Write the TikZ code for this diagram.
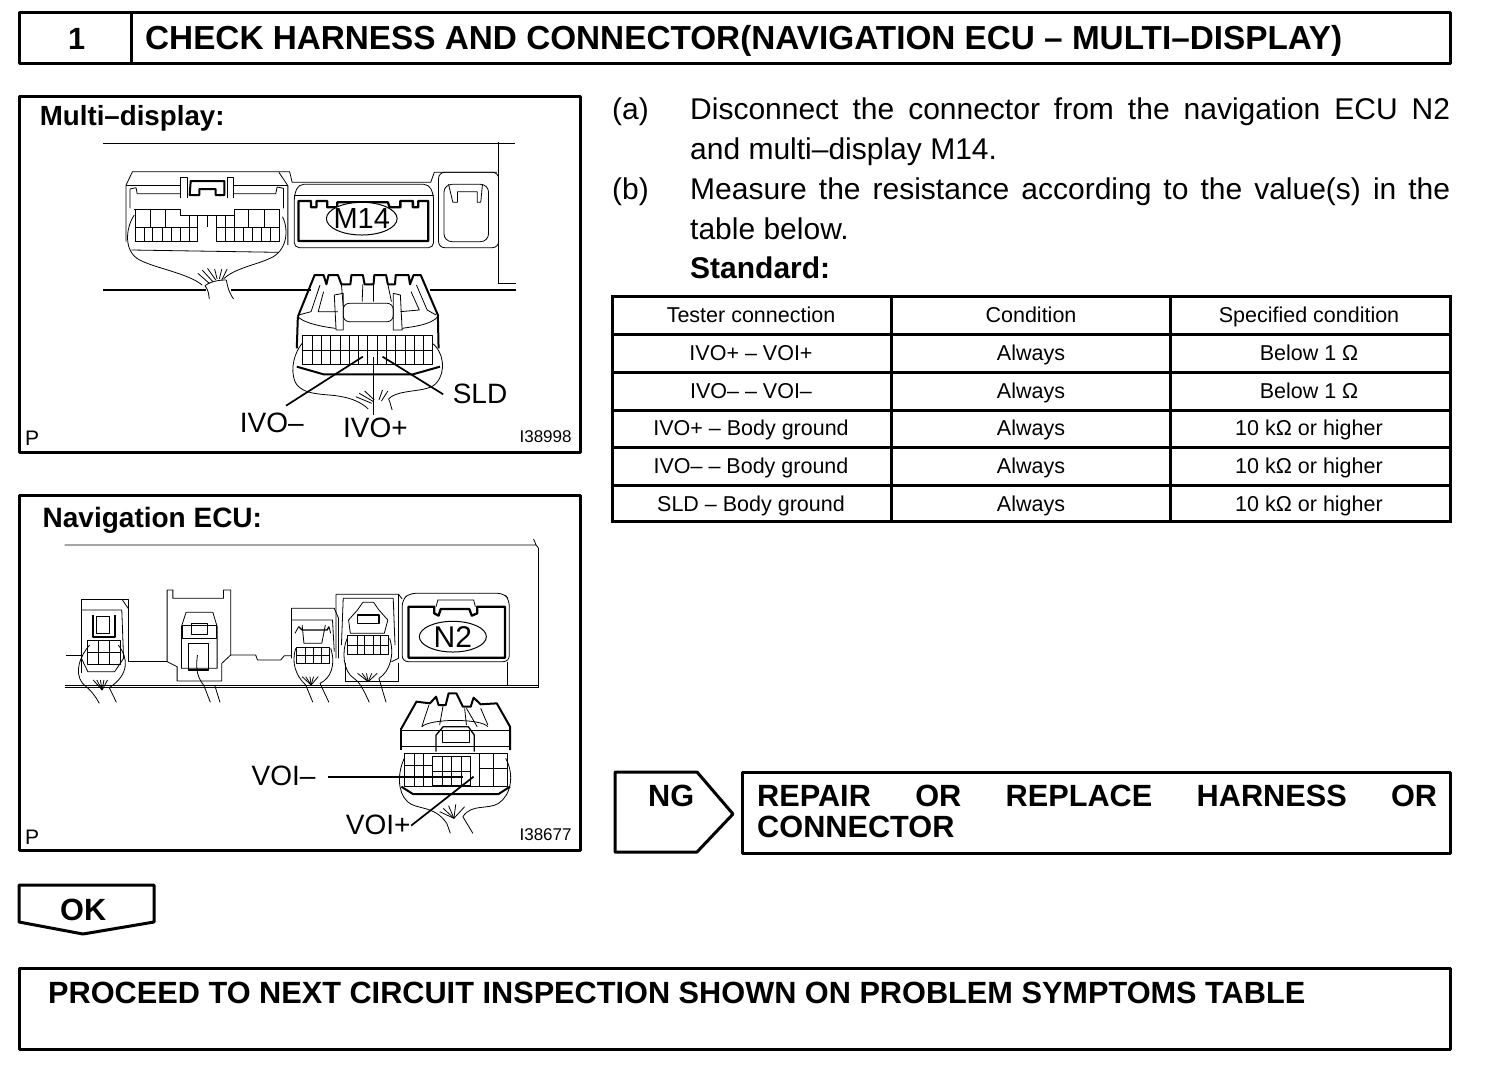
\documentclass[tikz,border=0pt]{standalone}
\usepackage{fontspec}
\usetikzlibrary{shapes.geometric}
\setmainfont{Liberation Sans}
\newcommand{\fsz}[1]{\fontsize{#1}{#1}\selectfont}
\tikzset{
 x=1pt,y=-1pt,
 box/.style={line width=3pt,line join=round},
 rule/.style={line width=3pt},
 big/.style={font=\fsz{30.7}\bfseries,inner sep=0pt,anchor=base west},
 sub/.style={font=\fsz{27.7}\bfseries,inner sep=0pt,anchor=base west},
 body/.style={font=\fontsize{30}{40}\selectfont,inner sep=0pt,anchor=north west},
 cell/.style={font=\fsz{21.5},inner sep=0pt,anchor=base},
 lab/.style={font=\fsz{28},inner sep=0pt,anchor=base},
 tiny/.style={font=\fsz{17},inner sep=0pt,anchor=base east},
 pp/.style={font=\fsz{21},inner sep=0pt,anchor=base west},
 art/.style={line width=.8pt,line join=round},
 hv/.style={line width=2pt,line join=round},
 lead/.style={line width=1.7pt},
 pict/.style={x=0.35714pt,y=-0.33333pt},
}
\begin{document}
\begin{tikzpicture}
\useasboundingbox (0,0) rectangle (1504,1068);
% header
\draw[box] (19,12) rectangle (1450,63);
\draw[box] (131,12) -- (131,63);
\node[big] (num) at (68,49) {1};
\node[big,font=\fsz{33.3}\bfseries] (title) at (145,49) {CHECK HARNESS AND CONNECTOR(NAVIGATION ECU – MULTI–DISPLAY)};
% panels
\draw[box] (19,96) rectangle (580,452);
\draw[box] (19,495) rectangle (580,850);

% ---- panel 1 ----
\begin{scope}[shift={(20,95)},pict]
\node[sub] (t1) at (55,92) {Multi–display:};
\draw[art] (232,145) -- (1386,145);
\draw[art] (1340,142) -- (1340,566);
\draw[hv,line width=1.2pt] (1340,566) -- (1388,566);
\draw[hv,line width=1.2pt] (232,585) -- (520,585) (590,585) -- (815,585) (1148,585) -- (1388,585);
% left connector
\draw[art] (297,440) -- (297,270) -- (315,230) -- (755,230) -- (762,262) -- (1150,262) -- (1160,232) -- (1335,232);
\draw[art] (750,450) -- (750,272) -- (725,232);
\draw[art] (297,272) -- (450,272) (598,272) -- (750,272);
\draw[art] (450,310) -- (450,248) -- (468,248) -- (468,310);
\draw[art] (580,310) -- (580,248) -- (598,248) -- (598,310);
\draw[art] (328,296) -- (450,296) (598,296) -- (716,296) -- (720,276) -- (738,280) -- (738,340);
\draw[art] (328,296) -- (325,278) -- (308,282) -- (308,340);
\draw[hv] (478,258) -- (572,258) -- (572,300) -- (548,300) -- (548,282) -- (502,282) -- (502,300) -- (475,300) -- cycle;
\draw[art] (320,342) -- (448,342) -- (448,360) -- (600,360) -- (600,342) -- (726,342);
\draw[art] (322,397) -- (498,397) (550,397) -- (726,397);
\draw[hv,line width=1.2pt] (322,440) -- (498,440) -- (498,397) (550,397) -- (550,440) -- (726,440);
\foreach \q in {322,348,372,398,424,448,474} \draw[art] (\q,397) -- (\q,440);
\foreach \q in {574,600,625,650,676,700,726} \draw[art] (\q,397) -- (\q,440);
\foreach \q in {474,498,524,550,574,600} \draw[art] (\q,360) -- (\q,397);
\draw[art] (364,342) -- (364,397) (408,342) -- (408,397) (640,342) -- (640,397) (684,342) -- (684,397);
\draw[art] (322,342) -- (322,397) (726,342) -- (726,397);
\draw[art] (320,360) .. controls (295,400) and (290,470) .. (335,495) .. controls (380,520) and (470,535) .. (510,570);
\draw[art] (735,365) .. controls (755,410) and (745,470) .. (700,490) .. controls (660,510) and (600,520) .. (570,552);
\draw[art] (312,465) -- (725,472);
\draw[art] (518,572) .. controls (530,590) and (528,600) .. (530,612);
\draw[art] (578,555) .. controls (582,585) and (590,600) .. (598,612);
\draw[art] (518,572) .. controls (535,558) and (560,555) .. (578,555);
\foreach \a/\b/\c/\d in {498/535/530/565, 510/525/540/560, 525/520/548/555, 545/522/552/552, 565/522/558/552, 580/522/565/555}
  \draw[art] (\a,\b) -- (\c,\d);
% M14
\draw[art,rounded corners=5pt] (768,300) -- (768,458) -- (1158,458) -- (1158,300) -- (1145,268) -- (780,268) -- cycle;
\draw[art] (768,300) -- (1158,300);
\draw[hv,line width=2.3pt] (780,318) -- (815,318) -- (815,337) -- (830,337) -- (830,318) -- (860,318) -- (860,337) -- (888,337) -- (888,322) -- (1030,322) -- (1035,337) -- (1065,337) -- (1065,318) -- (1100,318) -- (1100,337) -- (1115,337) -- (1115,318) -- (1143,318) -- (1143,438) -- (780,438) -- cycle;
\node[draw,ellipse,fill=white,line width=1pt,minimum width=70.7pt,minimum height=32.7pt,inner sep=0pt] (m14) at (957,371) {};
\node[lab,anchor=center,font=\fsz{29}] (m14t) at (957,372) {M14};
% right small connector
\draw[art,rounded corners=6pt] (1172,458) rectangle (1340,232);
\draw[art,rounded corners=8pt] (1187,268) rectangle (1312,440);
\draw[art] (1200,268) -- (1212,322) -- (1225,322) -- (1225,290) -- (1280,290) -- (1280,322) -- (1290,322) -- (1295,268);
% lower connector
\draw[hv] (778,665) -- (825,540) -- (850,540) -- (858,568) -- (864,540) -- (890,540) -- (900,568) -- (925,568) -- (928,540) -- (960,540) -- (965,568) -- (990,568) -- (992,540) -- (1025,540) -- (1030,568) -- (1050,568) -- (1052,540) -- (1088,540) -- (1092,568) -- (1102,540) -- (1122,540) -- (1170,660) -- (1172,760);
\draw[hv] (778,665) -- (775,760);
\draw[hv] (775,815) -- (850,838) -- (1100,838) -- (1176,815);
\draw[art] (900,568) -- (905,635) (960,568) -- (958,620) (990,568) -- (990,620) (1030,568) -- (1040,620);
\draw[art] (840,570) -- (815,650) -- (780,660) (850,590) -- (835,650) -- (890,650);
\draw[art] (1110,570) -- (1140,645) -- (1165,660) (1095,590) -- (1118,645) -- (1065,650);
\draw[art] (880,600) -- (905,595) -- (905,705) -- (885,705) -- (880,600);
\draw[art] (1045,595) -- (1065,600) -- (1070,705) -- (1045,705) -- cycle;
\draw[art,rounded corners=6pt] (905,625) -- (1045,625) -- (1045,680) -- (905,680) -- cycle;
\draw[art] (778,665) .. controls (800,690) and (880,700) .. (885,700) (1070,700) .. controls (1100,695) and (1150,690) .. (1170,665);
\draw[art] (792,722) rectangle (1155,808);
\draw[art] (792,765) -- (1155,765);
\foreach \i in {0,...,13} \draw[art] ({792+26*\i},722) -- ({792+26*\i},808);
\draw[art] (790,745) .. controls (770,770) and (755,820) .. (770,860) .. controls (790,905) and (860,895) .. (900,905) .. controls (930,910) and (960,925) .. (975,942);
\draw[art] (1155,745) .. controls (1185,770) and (1195,830) .. (1165,865) .. controls (1140,895) and (1060,880) .. (1032,912) .. controls (1038,925) and (1038,935) .. (1042,945);
\foreach \a/\b/\c/\d in {940/905/985/925, 950/895/990/920, 965/888/992/915, 1015/885/1005/915, 1030/888/1012/918}
  \draw[art] (\a,\b) -- (\c,\d);
\coordinate (p1a) at (745,932); \coordinate (p1b) at (960,785);
\coordinate (p2a) at (990,960); \coordinate (p2b) at (990,785);
\coordinate (p3a) at (1185,898); \coordinate (p3b) at (1015,785);
\draw[lead] (p1a) -- (p1b);
\draw[lead] (p2a) -- (p2b);
\draw[lead] (p3a) -- (p3b);
\node[lab] (slds) at (1288,925) {SLD};
\node[lab] (ivom) at (705,1012) {IVO–};
\node[lab] (ivop) at (995,1026) {IVO+};
\node[pp] (p1) at (14,1052) {P};
\node[tiny] (id1) at (1545,1042) {I38998};
\end{scope}

% ---- panel 2 ----
\begin{scope}[shift={(20,495)},pict]
\node[sub,font=\fsz{28}\bfseries] (t2) at (63,97) {Navigation ECU:};
\draw[art] (125,150) -- (1445,150) -- (1438,132) (1445,150) -- (1452,160) -- (1452,577);
\draw[art] (125,570) -- (1452,570);
\draw[art,line width=1.2pt] (125,577) -- (1452,577);
\draw[art] (130,482) -- (172,482);
% conn 1
\draw[art] (172,535) -- (172,312) -- (303,312) -- (303,500) -- (412,500);
\draw[art] (285,312) -- (303,340) (172,345) -- (285,345) -- (290,490) -- (265,530) -- (190,530) -- (172,490);
\draw[hv] (205,360) -- (205,425) -- (265,425) -- (265,360);
\draw[art] (215,365) rectangle (250,415);
\draw[art] (190,437) rectangle (280,507);
\draw[art] (190,472) -- (280,472) (220,437) -- (220,507) (250,437) -- (250,507);
\draw[art] (195,450) .. controls (170,480) and (150,530) .. (175,565) .. controls (185,575) and (205,590) .. (222,625);
\draw[art] (275,450) .. controls (305,490) and (305,540) .. (250,578) -- (270,622);
\foreach \a in {205,215,225,235,245} \draw[art] (\a,555) -- (230,585);
% conn 2
\draw[art] (412,500) -- (412,285) -- (428,285) -- (428,310) -- (570,310) -- (570,285) -- (590,285) -- (590,480) -- (565,505) -- (565,558) -- (440,558) -- (440,515) -- (412,500);
\draw[art] (452,520) -- (452,395) -- (465,352) -- (540,352) -- (552,395) -- (552,520) -- cycle;
\draw[hv,line width=1.3pt] (455,392) rectangle (550,430);
\draw[hv,line width=1.3pt] (480,385) rectangle (525,418);
\draw[hv,line width=1.3pt] (472,445) rectangle (528,525);
\draw[art] (497,480) .. controls (490,530) and (500,550) .. (515,572) -- (533,622);
\draw[art] (545,570) -- (560,622);
\draw[art] (590,480) -- (660,480) -- (665,495) -- (730,495) -- (740,482) -- (760,482);
% conn 3
\draw[art] (760,490) -- (760,340) -- (880,340) -- (892,370) -- (892,490);
\draw[art] (760,375) -- (875,375) -- (880,470);
\draw[art] (790,390) -- (795,445) -- (845,445) -- (855,390);
\draw[hv,line width=1.3pt] (780,395) -- (790,405) -- (860,405) -- (865,395);
\draw[art] (770,415) -- (780,395) (870,415) -- (865,395);
\draw[art] (775,457) rectangle (865,505);
\draw[art] (775,480) -- (865,480) (800,455) -- (800,505) (822,455) -- (822,505) (845,455) -- (845,505);
\draw[art] (772,460) .. controls (760,500) and (770,540) .. (800,570) -- (820,622);
\draw[art] (870,460) .. controls (885,510) and (870,550) .. (840,565) -- (865,622);
\foreach \a in {790,800,812,822,835} \draw[art] (\a,545) -- (815,570);
% conn 4
\draw[art] (885,490) -- (885,298) -- (1060,298) -- (1070,312);
\draw[art] (1060,298) -- (1060,490) -- (1040,500);
\draw[art] (905,310) -- (1045,310) -- (1050,450) (905,310) -- (900,450);
\draw[hv,line width=1.3pt] (945,360) rectangle (1005,385);
\draw[art] (945,345) -- (960,322) -- (990,322) -- (1005,345) (945,345) -- (920,375) -- (925,415) -- (1020,415) -- (1030,375) -- (1005,345);
\draw[art] (918,420) rectangle (1032,478);
\draw[art] (918,450) -- (1032,450) (945,420) -- (945,478) (965,420) -- (965,478) (990,420) -- (990,478) (1010,420) -- (1010,478);
\draw[art] (916,430) .. controls (900,470) and (905,530) .. (935,550) .. controls (950,560) and (960,580) .. (978,622);
\draw[art] (1035,430) .. controls (1050,480) and (1035,530) .. (1005,550) -- (1025,622);
\foreach \a in {945,958,970,985,1000} \draw[art] (\a,535) -- (975,560);
\draw[art] (912,505) -- (912,558) -- (1060,558) -- (1060,505);
% N2
\draw[art,rounded corners=6pt] (1070,500) -- (1070,315) -- (1090,295) -- (1355,295) -- (1370,315) -- (1370,500) -- cycle;
\draw[art] (1365,500) -- (1365,570);
\draw[hv,line width=2.3pt] (1088,335) -- (1160,335) -- (1160,355) -- (1172,362) -- (1178,342) -- (1258,342) -- (1265,362) -- (1280,355) -- (1280,335) -- (1358,335) -- (1358,488) -- (1088,488) -- cycle;
\draw[art] (1165,335) -- (1170,315) -- (1270,315) -- (1275,335);
\node[draw,ellipse,fill=white,line width=1pt,minimum width=67pt,minimum height=30.7pt,inner sep=0pt] (n2) at (1212,425) {};
\node[lab,anchor=center,font=\fsz{30}] (n2t) at (1212,426) {N2};
% lower connector
\draw[hv] (1068,700) -- (1110,620) -- (1148,625) -- (1165,605) -- (1172,630) -- (1192,630) -- (1200,595) -- (1222,595) -- (1240,635) -- (1262,635) -- (1270,608) -- (1290,628) -- (1335,625) -- (1372,695) -- (1372,765);
\draw[hv] (1068,700) -- (1068,765);
\draw[hv] (1068,875) -- (1100,897) -- (1340,897) -- (1372,875);
\draw[art] (1068,705) -- (1372,705) (1068,755) -- (1372,755);
\draw[art] (1125,695) -- (1145,630) (1250,640) -- (1280,695) (1290,640) -- (1310,690) (1185,630) -- (1175,690) (1245,640) -- (1250,690);
\draw[art] (1125,695) .. controls (1150,670) and (1290,670) .. (1310,695);
\draw[hv,line width=1.3pt] (1165,770) -- (1165,720) -- (1185,695) -- (1255,695) -- (1272,720) -- (1272,770);
\draw[art] (1182,705) rectangle (1258,742);
\draw[art] (1075,775) rectangle (1365,873);
\draw[art] (1075,812) -- (1155,812) (1285,820) -- (1365,820);
\draw[hv,line width=1.3pt] (1155,785) rectangle (1262,873);
\draw[art] (1155,830) -- (1262,830);
\foreach \q in {1182,1208,1235} \draw[art] (\q,785) -- (\q,873);
\foreach \q in {1105,1130,1285,1325} \draw[art] (\q,775) -- (\q,873);
\draw[art] (1076,790) .. controls (1058,830) and (1055,890) .. (1085,920) .. controls (1110,945) and (1160,930) .. (1195,985) -- (1205,1015);
\draw[art] (1360,790) .. controls (1385,840) and (1375,900) .. (1340,925) .. controls (1310,945) and (1265,925) .. (1240,965) -- (1268,1015);
\foreach \a/\b in {1175/950, 1185/940, 1200/932, 1220/928, 1245/935} \draw[art] (\a,\b) -- (1215,970);
\coordinate (v1a) at (862,845); \coordinate (v1b) at (1240,845);
\coordinate (v2a) at (1095,992); \coordinate (v2b) at (1270,845);
\draw[lead] (v1a) -- (v1b);
\draw[lead] (v2a) -- (v2b);
\node[lab] (voim) at (738,872) {VOI–};
\node[lab] (voip) at (1003,1019) {VOI+};
\node[pp] (p2) at (14,1048) {P};
\node[tiny] (id2) at (1545,1036) {I38677};
\end{scope}

% right text
\node[body] (alab) at (612,98) {(a)};
\node[body,text width=760pt,align=justify] (atext) at (690,98) {Disconnect the connector from the navigation ECU N2\linebreak and multi–display M14.};
\node[body] (blab) at (612,178) {(b)};
\node[body,text width=760pt,align=justify] (btext) at (690,178) {Measure the resistance according to the value(s) in the table below.};
\node[big,font=\fsz{30}\bfseries] (std) at (690,278) {Standard:};

% table
\draw[rule] (612,296) rectangle (1450,521);
\foreach \yy in {334,372,410,447,485} \draw[rule] (612,\yy) -- (1450,\yy);
\foreach \xx in {891,1170} \draw[rule] (\xx,296) -- (\xx,521);
\node[cell] (a0) at (751,322) {Tester connection};
\node[cell] (b0) at (1031,322) {Condition};
\node[cell] (c0) at (1309,322) {Specified condition};
\node[cell] (a1) at (751,360) {IVO+ – VOI+};
\node[cell] (b1) at (1031,360) {Always};
\node[cell] (c1) at (1309,360) {Below 1 Ω};
\node[cell] (a2) at (751,398) {IVO– – VOI–};
\node[cell] (b2) at (1031,398) {Always};
\node[cell] (c2) at (1309,398) {Below 1 Ω};
\node[cell] (a3) at (751,435) {IVO+ – Body ground};
\node[cell] (b3) at (1031,435) {Always};
\node[cell] (c3) at (1309,435) {10 kΩ or higher};
\node[cell] (a4) at (751,473) {IVO– – Body ground};
\node[cell] (b4) at (1031,473) {Always};
\node[cell] (c4) at (1309,473) {10 kΩ or higher};
\node[cell] (a5) at (751,511) {SLD – Body ground};
\node[cell] (b5) at (1031,511) {Always};
\node[cell] (c5) at (1309,511) {10 kΩ or higher};

% NG
\draw[box] (615,772) -- (697,772) -- (733,814) -- (697,852) -- (615,852) -- cycle;
\node[big] (ng) at (648,806) {NG};
\draw[box] (742,772) rectangle (1450,853);
\node[big,anchor=north west,text width=680pt,align=justify,font=\fontsize{30.7}{31}\selectfont\bfseries] (rep) at (757,785) {REPAIR OR REPLACE HARNESS OR\linebreak CONNECTOR};
% OK
\draw[box] (19,885) -- (154,885) -- (154,922) -- (83,934) -- (19,922) -- cycle;
\node[big] (ok) at (60,920) {OK};
% proceed
\draw[box] (19,968) rectangle (1450,1049);
\node[big] (pro) at (48,1003) {PROCEED TO NEXT CIRCUIT INSPECTION SHOWN ON PROBLEM SYMPTOMS TABLE};
\end{tikzpicture}
\end{document}
